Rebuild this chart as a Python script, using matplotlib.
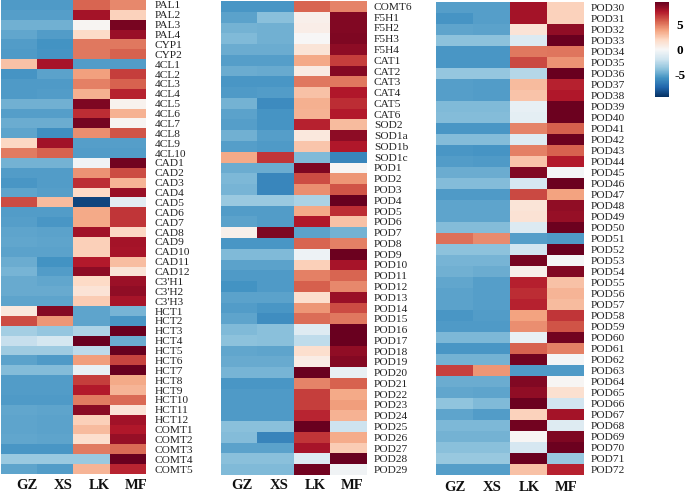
import numpy as np
import matplotlib
matplotlib.use('Agg')
import matplotlib.pyplot as plt

plt.rcParams['font.family'] = ['Liberation Serif', 'DejaVu Serif']

samples = ['GZ', 'XS', 'LK', 'MF']

labels1 = ['PAL1', 'PAL2', 'PAL3', 'PAL4', 'CYP1', 'CYP2', '4CL1', '4CL2', '4CL3', '4CL4', '4CL5', '4CL6',
           '4CL7', '4CL8', '4CL9', '4CL10', 'CAD1', 'CAD2', 'CAD3', 'CAD4', 'CAD5', 'CAD6', 'CAD7', 'CAD8',
           'CAD9', 'CAD10', 'CAD11', 'CAD12', "C3'H1", "C3'H2", "C3'H3", 'HCT1', 'HCT2', 'HCT3', 'HCT4',
           'HCT5', 'HCT6', 'HCT7', 'HCT8', 'HCT9', 'HCT10', 'HCT11', 'HCT12', 'COMT1', 'COMT2', 'COMT3',
           'COMT4', 'COMT5']
values1 = [
    [-5.4, -5.4, 5.5, 4.6], [-5.2, -5.2, 7.9, 2.2], [-4.6, -4.6, 0.2, 9.0], [-4.9, -5.3, 1.8, 8.2],
    [-5.3, -5.7, 5.0, 5.0], [-5.4, -5.6, 5.0, 5.6], [2.8, 7.8, -5.3, -5.3], [-5.6, -5.1, 3.9, 6.6],
    [-5.4, -5.4, 4.8, 5.6], [-5.4, -5.3, 3.4, 7.3], [-4.6, -4.6, 8.9, 0.3], [-5.2, -5.2, 7.0, 3.3],
    [-4.7, -4.7, 9.1, 0.2], [-5.0, -5.8, 4.4, 6.0], [2.0, 8.0, -5.2, -5.2], [4.9, 5.6, -5.3, -5.3],
    [-4.5, -4.5, -0.3, 9.2], [-5.3, -5.3, 4.3, 6.2], [-5.5, -5.3, 7.0, 3.2], [-5.0, -5.2, 1.9, 8.2],
    [6.2, 3.0, -8.7, -1.0], [-5.3, -5.3, 3.6, 6.8], [-5.2, -5.5, 3.6, 6.8], [-5.0, -5.1, 8.0, 2.0],
    [-4.9, -5.0, 2.3, 7.9], [-5.1, -5.1, 2.3, 7.8], [-4.7, -5.7, 7.5, 2.9], [-4.4, -5.3, 8.5, 1.2],
    [-4.8, -4.9, 1.9, 8.1], [-4.8, -4.8, 1.3, 8.4], [-5.0, -5.0, 2.4, 7.8], [1.0, 8.7, -5.0, -4.4],
    [6.2, 4.2, -5.0, -5.5], [-3.2, -3.7, -2.9, 9.4], [-2.2, -1.7, 9.4, -4.7], [-3.4, -3.4, -2.5, 9.5],
    [-5.1, -5.4, 4.0, 6.4], [-4.1, -4.1, -0.7, 9.4], [-5.3, -5.3, 6.6, 3.6], [-5.3, -5.3, 7.5, 3.2],
    [-5.4, -5.4, 4.9, 5.4], [-4.9, -5.0, 8.6, 1.3], [-5.0, -5.1, 2.3, 8.0], [-5.0, -5.1, 3.0, 7.6],
    [-4.9, -5.0, 1.6, 8.3], [-5.5, -5.5, 4.9, 5.4], [-3.5, -3.5, -3.5, 9.4], [-5.0, -5.3, 3.2, 7.2],
]

labels2 = ['COMT6', 'F5H1', 'F5H2', 'F5H3', 'F5H4', 'CAT1', 'CAT2', 'CAT3', 'CAT4', 'CAT5', 'CAT6', 'SOD2',
           'SOD1a', 'SOD1b', 'SOD1c'] + ['POD%d' % i for i in range(1, 30)]
values2 = [
    [-5.5, -5.5, 5.5, 4.7], [-5.1, -4.0, 0.5, 8.8], [-4.5, -4.6, 0.6, 8.8], [-4.2, -4.6, 0.0, 8.9],
    [-4.7, -4.7, 1.2, 8.5], [-5.2, -5.2, 3.6, 6.6], [-4.7, -4.8, 0.8, 8.7], [-5.5, -5.5, 5.0, 5.0],
    [-5.4, -5.3, 2.8, 7.6], [-4.5, -6.0, 3.4, 7.0], [-5.1, -5.6, 3.3, 7.5], [-5.2, -5.6, 7.3, 3.0],
    [-4.6, -5.2, 1.0, 8.5], [-5.2, -5.4, 2.6, 7.6], [3.6, 6.8, -4.2, -6.2], [-4.7, -4.7, 8.9, 0.1],
    [-4.3, -6.2, 6.2, 4.2], [-4.4, -6.2, 4.4, 6.0], [-3.5, -3.5, -3.0, 9.5], [-5.3, -5.3, 3.6, 7.0],
    [-5.1, -5.3, 7.6, 2.8], [0.5, 8.9, -5.1, -4.5], [-5.5, -5.5, 5.5, 4.8], [-4.2, -4.2, -0.5, 9.3],
    [-5.1, -5.1, 2.3, 7.8], [-5.4, -5.4, 4.8, 5.5], [-5.7, -5.4, 5.7, 4.6], [-5.1, -5.1, 1.6, 8.2],
    [-5.3, -5.5, 4.2, 6.2], [-5.0, -5.9, 5.3, 5.0], [-4.2, -4.0, -1.2, 9.4], [-3.9, -4.0, -2.4, 9.4],
    [-4.9, -5.0, 1.6, 8.4], [-4.8, -4.8, 0.7, 8.7], [-4.4, -4.4, 9.4, -0.7], [-5.5, -5.5, 4.7, 5.6],
    [-5.4, -5.4, 6.6, 3.6], [-5.4, -5.4, 6.6, 4.0], [-5.4, -5.4, 7.2, 3.3], [-4.0, -4.0, 9.4, -2.0],
    [-4.1, -6.3, 6.8, 3.5], [-5.1, -5.1, 7.8, 2.4], [-4.0, -4.0, -1.2, 9.4], [-4.2, -4.2, 9.2, -0.3],
]

labels3 = ['POD%d' % i for i in range(30, 73)]
values3 = [
    [-5.2, -5.2, 7.9, 2.2], [-5.6, -5.2, 7.9, 2.2], [-5.0, -5.1, 1.3, 8.4], [-3.9, -3.9, -1.3, 9.4],
    [-5.5, -5.5, 5.0, 5.1], [-5.5, -5.5, 6.3, 4.3], [-3.7, -3.7, -2.7, 9.4], [-5.2, -5.3, 3.0, 7.3],
    [-5.2, -5.3, 2.7, 7.6], [-4.2, -4.2, -0.8, 9.3], [-4.1, -4.1, -0.9, 9.3], [-5.5, -5.5, 4.7, 5.7],
    [-4.1, -4.1, -1.2, 9.3], [-5.5, -5.6, 4.8, 5.6], [-5.3, -5.4, 2.7, 7.5], [-4.7, -4.7, 8.8, -0.2],
    [-4.1, -4.1, -1.6, 9.3], [-5.4, -5.4, 6.3, 3.8], [-5.0, -5.0, 1.2, 8.4], [-5.0, -5.0, 1.4, 8.3],
    [-4.1, -4.1, -1.3, 9.3], [5.2, 4.5, -5.2, -5.4], [-3.9, -3.9, -1.8, 9.4], [-4.4, -4.4, 9.0, -0.1],
    [-4.6, -4.7, 0.5, 8.8], [-4.9, -5.2, 7.4, 2.8], [-5.1, -5.2, 7.0, 3.2], [-5.1, -5.2, 7.3, 3.0],
    [-5.5, -5.3, 3.8, 6.8], [-5.4, -5.4, 4.4, 6.0], [-4.3, -4.3, -0.7, 9.2], [-5.5, -5.5, 5.6, 4.8],
    [-4.5, -4.5, 9.2, -0.2], [6.5, 4.2, -5.4, -5.4], [-4.7, -4.7, 8.8, 0.1], [-4.9, -5.0, 8.4, 1.5],
    [-3.8, -4.2, 9.3, -1.8], [-5.0, -5.3, 2.2, 7.9], [-4.3, -4.3, 9.2, -1.2], [-4.5, -4.5, 0.1, 8.9],
    [-4.0, -4.0, -1.6, 9.3], [-3.6, -3.6, 9.4, -3.6], [-5.2, -5.2, 2.8, 7.3],
]

W, H = 685, 493


# pixel box of the reference -> figure fractions
def px_axes(x0, y0, x1, y1):
    return fig.add_axes([x0 / W, 1 - y1 / H, (x1 - x0) / W, (y1 - y0) / H])


def heatmap(box, values, labels, label_pad, sample_y, sample_shift):
    ax = px_axes(*box)
    m = ax.imshow(np.array(values), cmap='RdBu_r', vmin=-9.5, vmax=9.5, aspect='auto', interpolation='nearest')
    ax.set_yticks(range(len(labels)))
    ax.set_yticklabels(labels, fontsize=8.2, color='#222222')
    ax.yaxis.tick_right()
    cell = (box[2] - box[0]) / 4
    ax.set_xticks(np.arange(4) + sample_shift / cell)
    ax.set_xticklabels(samples, fontsize=10.5, fontweight='bold', color='#111111')
    ax.tick_params(length=0, axis='y', pad=label_pad)
    ax.tick_params(length=0, axis='x', pad=(sample_y - 7 - box[3]) * 0.72)
    for s in ax.spines.values():
        s.set_visible(False)
    return m


fig = plt.figure(figsize=(W / 100, H / 100), dpi=100)

heatmap((1, 0, 146, 474), values1, labels1, 6, 486, 8)
heatmap((221, 1, 367, 475), values2, labels2, 5, 486, 3)
m = heatmap((436, 2, 583, 475), values3, labels3, 5.8, 488, 1)

cax = px_axes(655, 2, 669, 97)
cb = fig.colorbar(m, cax=cax, ticks=[-5, 0, 5])
cb.outline.set_visible(False)
cb.ax.tick_params(length=0, pad=8)
cb.ax.set_yticklabels(['-5', '0', '5'], fontsize=9.5, fontweight='bold', ha='center')

plt.savefig('out.png', dpi=100)
